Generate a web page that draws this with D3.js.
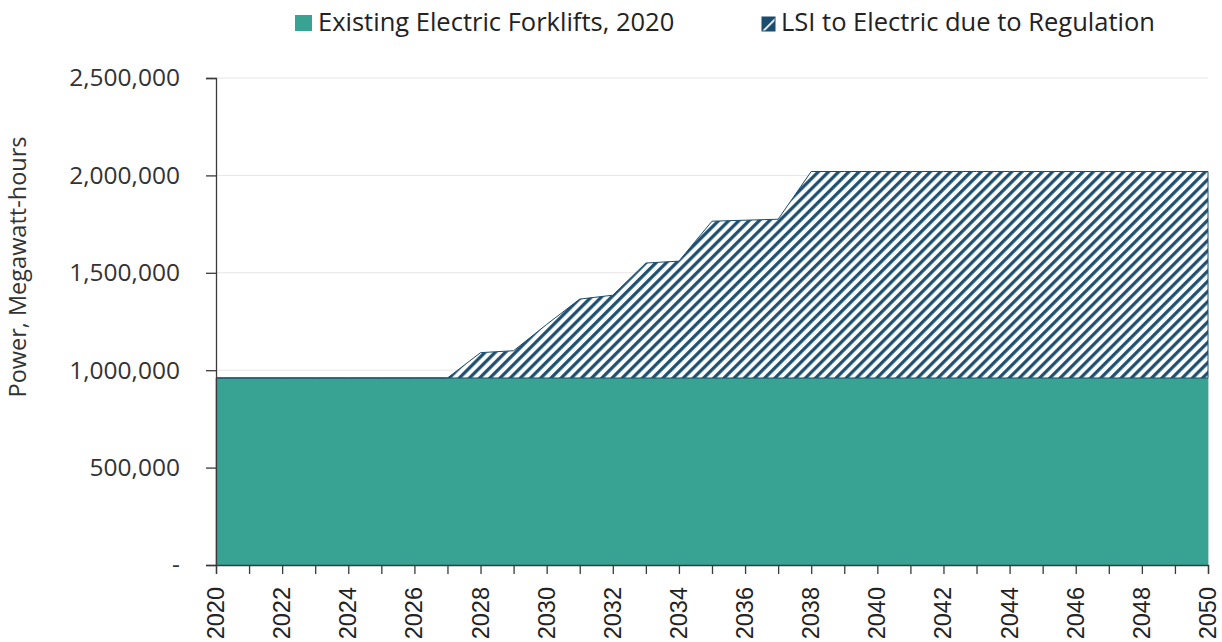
<!DOCTYPE html>
<html>
<head>
<meta charset="utf-8">
<script src="https://cdn.jsdelivr.net/npm/d3@7"></script>
<style>
  html, body { margin: 0; padding: 0; background: #fff; }
  svg { display: block; }
</style>
</head>
<body>
<svg id="chart" width="1222" height="642"></svg>
<script>
const years = [2020, 2021, 2022, 2023, 2024, 2025, 2026, 2027, 2028, 2029, 2030,
               2031, 2032, 2033, 2034, 2035, 2036, 2037, 2038, 2039, 2040,
               2041, 2042, 2043, 2044, 2045, 2046, 2047, 2048, 2049, 2050];
const existingElectric = [960000, 960000, 960000, 960000, 960000, 960000, 960000, 960000, 960000, 960000, 960000,
                          960000, 960000, 960000, 960000, 960000, 960000, 960000, 960000, 960000, 960000,
                          960000, 960000, 960000, 960000, 960000, 960000, 960000, 960000, 960000, 960000];
const lsiToElectric = [0, 0, 0, 0, 0, 0, 0, 0, 130000, 140000, 275000,
                       405000, 425000, 590000, 600000, 805000, 810000, 815000, 1060000, 1060000, 1060000,
                       1060000, 1060000, 1060000, 1060000, 1060000, 1060000, 1060000, 1060000, 1060000, 1060000];
const seriesNames = ["Existing Electric Forklifts, 2020", "LSI to Electric due to Regulation"];
const yTicks = [0, 500000, 1000000, 1500000, 2000000, 2500000];
const xTickLabels = [2020, 2022, 2024, 2026, 2028, 2030, 2032, 2034, 2036, 2038, 2040, 2042, 2044, 2046, 2048, 2050];
const yTitle = "Power, Megawatt-hours";

const teal = "#38a393";
const navy = "#1b4d6e";
const axisColor = "#3a3a3a";

const svg = d3.select("#chart");
const m = { left: 216, right: 1208, top: 78, bottom: 565 };

const x = d3.scaleLinear().domain([2020, 2050]).range([m.left, m.right]);
const y = d3.scaleLinear().domain([0, 2500000]).range([m.bottom, m.top]);

// hatch pattern
const P = 7.2;
const defs = svg.append("defs");
const pat = defs.append("pattern")
  .attr("id", "hatch")
  .attr("patternUnits", "userSpaceOnUse")
  .attr("width", P).attr("height", P)
  .attr("patternTransform", "rotate(45)");
pat.append("rect").attr("width", P).attr("height", P).attr("fill", "#fff");
pat.append("line").attr("x1", 1.7).attr("y1", 0).attr("x2", 1.7).attr("y2", P)
  .attr("stroke", navy).attr("stroke-width", 3.2);

const pat2 = defs.append("pattern")
  .attr("id", "hatchLegend")
  .attr("patternUnits", "userSpaceOnUse")
  .attr("width", 20).attr("height", 20)
  .attr("patternTransform", "translate(768,25) rotate(45)");
pat2.append("rect").attr("width", 20).attr("height", 20).attr("fill", navy);
pat2.append("line").attr("x1", 0).attr("y1", 0).attr("x2", 0).attr("y2", 20)
  .attr("stroke", "#fff").attr("stroke-width", 3.5);

// gridlines
svg.append("g").selectAll("line").data(yTicks.filter(d => d > 0)).join("line")
  .attr("x1", m.left).attr("x2", m.right)
  .attr("y1", d => y(d)).attr("y2", d => y(d))
  .attr("stroke", "#e6e6e6").attr("stroke-width", 1);

// stacked data
const rows = years.map((yr, i) => ({ year: yr, existing: existingElectric[i], lsi: lsiToElectric[i] }));
const stack = d3.stack().keys(["existing", "lsi"])(rows);

const area = d3.area()
  .x(d => x(d.data.year))
  .y0(d => y(d[0]))
  .y1(d => y(d[1]));

svg.append("path").datum(stack[0]).attr("d", area)
  .attr("fill", teal).attr("stroke", teal).attr("stroke-width", 0.8);

svg.append("path").datum(stack[1]).attr("d", area)
  .attr("fill", "url(#hatch)").attr("stroke", navy).attr("stroke-width", 1);

// Y axis
const yAxis = d3.axisLeft(y).tickValues(yTicks).tickSize(10).tickPadding(26)
  .tickFormat(d => d === 0 ? "-" : d3.format(",")(d));
const gy = svg.append("g").attr("transform", `translate(${m.left},0)`).call(yAxis);
gy.select(".domain").attr("stroke", axisColor).attr("stroke-width", 1.3);
gy.selectAll(".tick line").attr("stroke", axisColor).attr("stroke-width", 1.3);
gy.selectAll(".tick text")
  .attr("font-family", "'Open Sans', sans-serif").attr("font-size", 24.5)
  .attr("fill", "#333");

// X axis
const xAxis = d3.axisBottom(x).tickValues(years).tickSize(9).tickFormat("");
const gx = svg.append("g").attr("transform", `translate(0,${m.bottom})`).call(xAxis);
gx.select(".domain").attr("stroke", axisColor).attr("stroke-width", 1.3);
gx.selectAll(".tick line").attr("stroke", axisColor).attr("stroke-width", 1.3);

svg.append("g").selectAll("text").data(xTickLabels).join("text")
  .attr("transform", d => `translate(${x(d) + 8},${m.bottom + 22}) rotate(-90)`)
  .attr("text-anchor", "end")
  .attr("font-family", "'Liberation Sans', Arial, sans-serif")
  .attr("font-size", 23.5)
  .attr("fill", "#222")
  .text(d => d);

// Y title
svg.append("text")
  .attr("transform", `translate(26,267) rotate(-90)`)
  .attr("text-anchor", "middle")
  .attr("font-family", "'Open Sans', sans-serif")
  .attr("font-size", 23.5)
  .attr("fill", "#333")
  .text(yTitle);

// Legend
const lg = svg.append("g");
lg.append("rect").attr("x", 295).attr("y", 15).attr("width", 17).attr("height", 16).attr("fill", teal);
lg.append("text").attr("x", 318).attr("y", 31)
  .attr("font-family", "'Open Sans', sans-serif").attr("font-size", 25.5).attr("fill", "#222")
  .text(seriesNames[0]);
lg.append("rect").attr("x", 762).attr("y", 17).attr("width", 13).attr("height", 14)
  .attr("fill", "url(#hatchLegend)").attr("stroke", navy).attr("stroke-width", 1);
lg.append("text").attr("x", 781).attr("y", 31)
  .attr("font-family", "'Open Sans', sans-serif").attr("font-size", 25.5).attr("fill", "#222")
  .text(seriesNames[1]);
</script>
</body>
</html>
